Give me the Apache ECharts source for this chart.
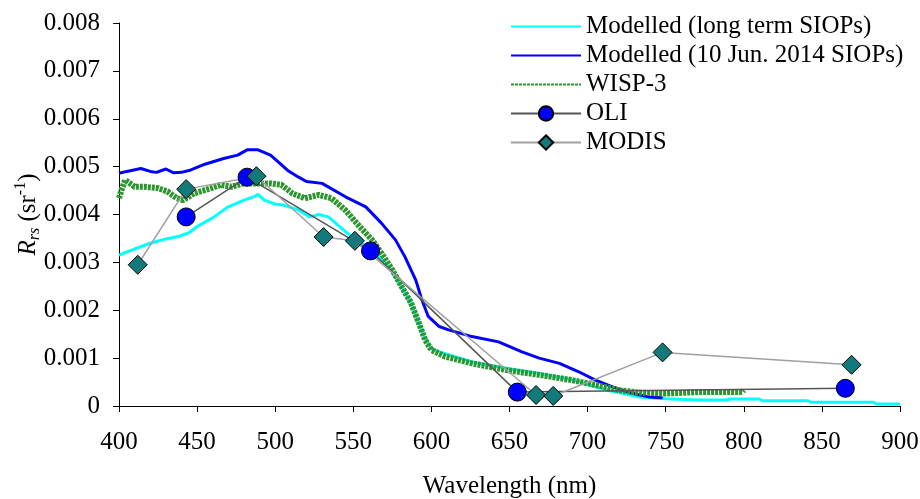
<!DOCTYPE html>
<html>
<head>
<meta charset="utf-8">
<script src="https://cdn.jsdelivr.net/npm/echarts@6/dist/echarts.min.js"></script>
<style>
  html, body { margin: 0; padding: 0; background: #fff; }
  #chart { width: 920px; height: 499px; }
</style>
</head>
<body>
<div id="chart"></div>
<script>
// wavelength (nm) / Rrs (sr-1)
var wlLong = [400, 410, 420, 430, 438, 445, 450, 460, 470, 480, 487, 489, 493, 500, 505, 515, 522, 528, 534, 545, 554, 562, 571, 577, 581, 587, 592, 596, 600, 605, 611, 626, 648, 669, 690, 705, 714, 720, 733, 750, 771, 789, 791, 810, 812, 841, 843, 883, 885, 900];
var rrsLong = [0.00315, 0.00328, 0.00340, 0.00349, 0.00354, 0.00362, 0.00375, 0.00393, 0.00416, 0.00430, 0.00438, 0.00442, 0.00430, 0.00422, 0.00420, 0.00409, 0.00395, 0.00400, 0.00395, 0.00364, 0.00343, 0.00326, 0.00298, 0.00270, 0.00249, 0.00215, 0.00173, 0.00140, 0.00120, 0.00113, 0.00107, 0.00092, 0.00079, 0.00068, 0.00055, 0.00040, 0.00032, 0.00028, 0.00019, 0.00015, 0.000125, 0.000125, 0.000146, 0.000146, 0.00011, 0.00011, 0.000077, 0.000077, 0.00004, 0.00004];

var wlJun = [400, 405, 414, 420, 424, 430, 435, 440, 446, 455, 467, 476, 482, 489, 497, 503, 508, 515, 520, 530, 545, 558, 568, 577, 583, 590, 594, 598, 605, 611, 626, 643, 658, 669, 682, 694, 705, 716, 728, 739, 748];
var rrsJun = [0.00486, 0.00490, 0.00496, 0.00490, 0.00488, 0.00495, 0.00487, 0.00488, 0.00493, 0.00505, 0.00517, 0.00524, 0.00535, 0.00535, 0.00524, 0.00507, 0.00492, 0.00478, 0.00469, 0.00465, 0.00437, 0.00416, 0.00382, 0.00347, 0.00312, 0.00263, 0.00221, 0.00187, 0.00166, 0.00159, 0.00145, 0.00134, 0.00113, 0.00100, 0.00089, 0.00072, 0.00054, 0.00040, 0.00027, 0.00019, 0.00017];

var wlWisp = [400, 402, 404, 410, 416, 425, 431, 437, 441, 448, 459, 465, 472, 480, 489, 497, 504, 511, 519, 528, 536, 545, 554, 562, 568, 575, 581, 587, 592, 596, 600, 609, 626, 648, 669, 690, 711, 720, 733, 750, 771, 799, 800];
var rrsWisp = [0.00434, 0.00455, 0.00472, 0.00458, 0.00458, 0.00455, 0.00448, 0.00434, 0.00430, 0.00444, 0.00455, 0.00462, 0.00458, 0.00465, 0.00465, 0.00465, 0.00462, 0.00444, 0.00434, 0.00441, 0.00434, 0.00409, 0.00375, 0.00347, 0.00319, 0.00284, 0.00249, 0.00215, 0.00173, 0.00138, 0.00117, 0.00103, 0.00089, 0.00075, 0.00065, 0.00054, 0.00040, 0.00033, 0.00028, 0.00026, 0.00029, 0.00029, 0.00033];

var wlOli = [443, 482, 561, 655, 865];
var rrsOli = [0.00395, 0.00478, 0.00324, 0.00029, 0.00037];

var wlModis = [412, 443, 488, 531, 551, 667, 678, 748, 869];
var rrsModis = [0.00295, 0.00453, 0.00480, 0.00353, 0.00345, 0.00023, 0.00021, 0.00112, 0.00086];

var xTicks = [400, 900, 50];
var yTicks = [0, 0.008, 0.001];

function pairs(xs, ys) {
    return xs.map(function (x, i) { return [x, ys[i]]; });
}

var serif = '"Liberation Serif", "Times New Roman", serif';
var fs = 25;

var chart = echarts.init(document.getElementById('chart'));
var option = {
    backgroundColor: '#fff',
    animation: false,
    textStyle: { fontFamily: serif, color: '#000' },
    legend: {
        orient: 'vertical',
        left: 505,
        top: 9,
        itemWidth: 70,
        itemHeight: 18,
        itemGap: 4,
        textStyle: { fontFamily: serif, fontSize: fs, color: '#000' },
        data: [
            { name: 'Modelled (long term SIOPs)', itemStyle: { opacity: 0 } },
            { name: 'Modelled (10 Jun. 2014 SIOPs)', itemStyle: { opacity: 0 } },
            { name: 'WISP-3', itemStyle: { opacity: 0 } },
            'OLI',
            'MODIS'
        ]
    },
    grid: {
        left: 119,
        right: 20,
        top: 23,
        bottom: 93,
        containLabel: false,
        outerBoundsMode: 'none'
    },
    xAxis: {
        type: 'value',
        min: xTicks[0],
        max: xTicks[1],
        interval: xTicks[2],
        name: 'Wavelength (nm)',
        nameLocation: 'middle',
        nameGap: 68,
        nameMoveOverlap: false,
        nameTextStyle: { fontFamily: serif, fontSize: fs, color: '#000' },
        axisLine: { onZero: false, lineStyle: { color: '#000', width: 1 } },
        axisTick: { show: true, inside: false, length: 6, lineStyle: { color: '#000' } },
        axisLabel: { margin: 24, fontFamily: serif, fontSize: fs, color: '#000' },
        splitLine: { show: false }
    },
    yAxis: {
        type: 'value',
        min: yTicks[0],
        max: yTicks[1],
        interval: yTicks[2],
        name: '{i|R}{sub|rs} (sr{sup|-1})',
        nameLocation: 'middle',
        nameGap: 76,
        nameRotate: 90,
        nameMoveOverlap: false,
        nameTextStyle: {
            fontFamily: serif,
            fontSize: fs,
            color: '#000',
            rich: {
                i: { fontFamily: serif, fontSize: fs, fontStyle: 'italic', color: '#000', lineHeight: 30 },
                sub: { fontFamily: serif, fontSize: 16, fontStyle: 'italic', color: '#000', verticalAlign: 'bottom', lineHeight: 30 },
                sup: { fontFamily: serif, fontSize: 16, color: '#000', verticalAlign: 'top', lineHeight: 30 }
            }
        },
        axisLine: { show: true, lineStyle: { color: '#000', width: 1 } },
        axisTick: { show: true, inside: false, length: 6, lineStyle: { color: '#000' } },
        axisLabel: {
            margin: 19,
            fontFamily: serif,
            fontSize: fs,
            color: '#000',
            formatter: function (v) {
                return v === 0 ? '0' : v.toFixed(3);
            }
        },
        splitLine: { show: false }
    },
    series: [{
        name: 'Modelled (long term SIOPs)',
        type: 'line',
        symbol: 'none',
        color: '#00ffff',
        lineStyle: { color: '#00ffff', width: 3 },
        data: pairs(wlLong, rrsLong)
    }, {
        name: 'Modelled (10 Jun. 2014 SIOPs)',
        type: 'line',
        symbol: 'none',
        color: '#0000ff',
        lineStyle: { color: '#0000ff', width: 3 },
        data: pairs(wlJun, rrsJun)
    }, {
        name: 'WISP-3',
        type: 'line',
        symbol: 'none',
        color: '#2f962f',
        lineStyle: { color: '#2f962f', width: 6, type: [3, 1] },
        data: pairs(wlWisp, rrsWisp)
    }, {
        name: 'OLI',
        type: 'line',
        symbol: 'circle',
        symbolSize: 18,
        color: '#0000ff',
        itemStyle: { color: '#0000ff', borderColor: '#000', borderWidth: 1 },
        lineStyle: { color: '#555555', width: 1.5 },
        data: pairs(wlOli, rrsOli)
    }, {
        name: 'MODIS',
        type: 'line',
        symbol: 'diamond',
        symbolSize: 19,
        color: '#127a7a',
        itemStyle: { color: '#127a7a', borderColor: '#000', borderWidth: 1 },
        lineStyle: { color: '#a0a0a0', width: 1.5 },
        data: pairs(wlModis, rrsModis)
    }]
};

chart.setOption(option);
</script>
</body>
</html>
